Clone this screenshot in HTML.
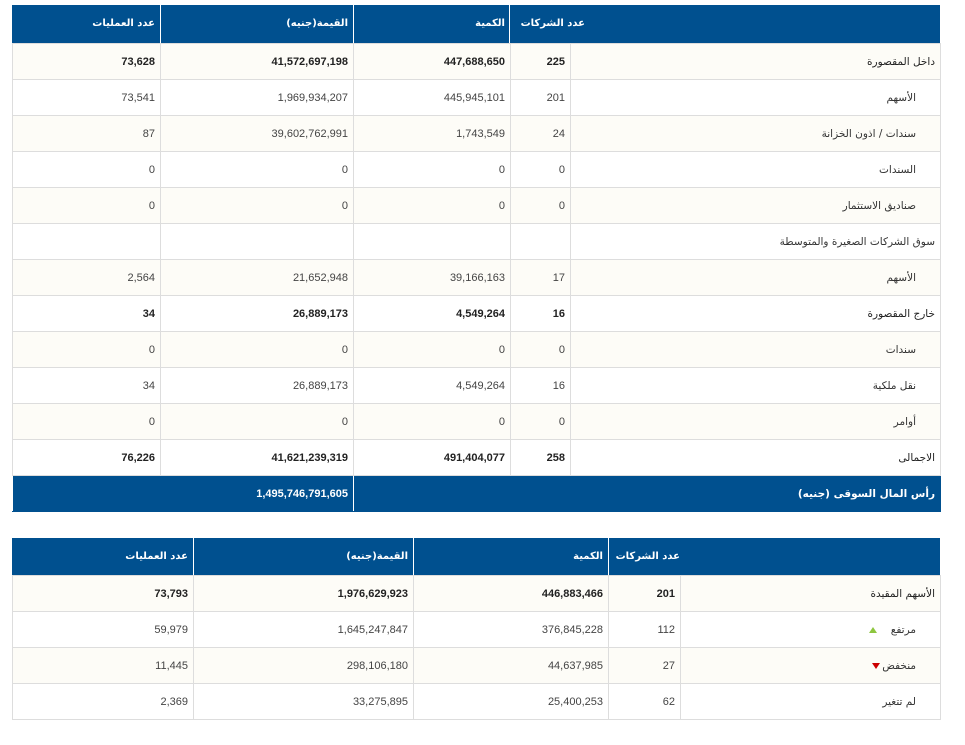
<!DOCTYPE html>
<html><head><meta charset="utf-8"><style>
body{margin:0;background:#fff;width:965px;height:745px;position:relative;overflow:hidden;font-family:"DejaVu Sans","Liberation Sans",sans-serif;}
.hdr{position:absolute;left:12px;width:928px;background:#00508f;color:#fff;font-weight:bold;font-size:10px;}
.hdr span{position:absolute;top:0;line-height:38px;white-space:nowrap;}
.hdr i{position:absolute;top:0;bottom:0;width:1px;background:#fff;}
table{position:absolute;left:12px;border-collapse:collapse;table-layout:fixed;direction:rtl;font-size:10.5px;color:#444;}
td{border:1px solid #ddd;height:35px;padding:0 5px;white-space:nowrap;text-align:right;font-family:"Liberation Sans","DejaVu Sans",sans-serif;font-size:11px;}
td.l{font-family:"DejaVu Sans",sans-serif;font-size:10.5px;padding-right:5px;font-weight:normal !important;color:#333;}
td.s{padding-right:24px;}
tr:nth-child(odd) td{background:#fdfcf7;}
tr.b td{font-weight:bold;color:#222;}
tr.blue td{background:#00508f !important;color:#fff !important;font-weight:bold;border-color:#00508f;border-left:1px solid #fff;}
.up{display:inline-block;width:0;height:0;border-left:4px solid transparent;border-right:4px solid transparent;border-bottom:6px solid #8dc63f;margin-right:10px;}
.dn{display:inline-block;width:0;height:0;border-left:4px solid transparent;border-right:4px solid transparent;border-top:6px solid #c00;margin-right:2px;}
</style></head><body>
<div class="hdr" style="top:5px;height:38px;">
<i style="left:148px"></i><i style="left:341px"></i><i style="left:497px"></i>
<span style="right:785px" dir="rtl">عدد العمليات</span>
<span style="right:592px" dir="rtl">القيمة(جنيه)</span>
<span style="right:435px" dir="rtl">الكمية</span>
<span style="right:355px" dir="rtl">عدد الشركات</span>
</div>
<table style="top:43px;width:928px;">
<colgroup><col style="width:370px"><col style="width:60px"><col style="width:157px"><col style="width:193px"><col style="width:148px"></colgroup>
<tr class="b"><td class="l">داخل المقصورة</td><td>225</td><td>447,688,650</td><td>41,572,697,198</td><td>73,628</td></tr>
<tr><td class="l s">الأسهم</td><td>201</td><td>445,945,101</td><td>1,969,934,207</td><td>73,541</td></tr>
<tr><td class="l s">سندات / اذون الخزانة</td><td>24</td><td>1,743,549</td><td>39,602,762,991</td><td>87</td></tr>
<tr><td class="l s">السندات</td><td>0</td><td>0</td><td>0</td><td>0</td></tr>
<tr><td class="l s">صناديق الاستثمار</td><td>0</td><td>0</td><td>0</td><td>0</td></tr>
<tr><td class="l">سوق الشركات الصغيرة والمتوسطة</td><td></td><td></td><td></td><td></td></tr>
<tr><td class="l s">الأسهم</td><td>17</td><td>39,166,163</td><td>21,652,948</td><td>2,564</td></tr>
<tr class="b"><td class="l">خارج المقصورة</td><td>16</td><td>4,549,264</td><td>26,889,173</td><td>34</td></tr>
<tr><td class="l s">سندات</td><td>0</td><td>0</td><td>0</td><td>0</td></tr>
<tr><td class="l s">نقل ملكية</td><td>16</td><td>4,549,264</td><td>26,889,173</td><td>34</td></tr>
<tr><td class="l s">أوامر</td><td>0</td><td>0</td><td>0</td><td>0</td></tr>
<tr class="b"><td class="l" style="background:#fff;height:34px">الاجمالى</td><td style="background:#fff">258</td><td style="background:#fff">491,404,077</td><td style="background:#fff">41,621,239,319</td><td style="background:#fff">76,226</td></tr>
<tr class="blue"><td class="l" colspan="3" style="height:35px;font-weight:bold !important">رأس المال السوقى (جنيه)</td><td colspan="2">1,495,746,791,605</td></tr>
</table>
<div class="hdr" style="top:538px;height:37px;">
<i style="left:181px"></i><i style="left:401px"></i><i style="left:596px"></i>
<span style="right:752px;line-height:37px" dir="rtl">عدد العمليات</span>
<span style="right:532px;line-height:37px" dir="rtl">القيمة(جنيه)</span>
<span style="right:337px;line-height:37px" dir="rtl">الكمية</span>
<span style="right:260px;line-height:37px" dir="rtl">عدد الشركات</span>
</div>
<table style="top:575px;width:928px;">
<colgroup><col style="width:260px"><col style="width:72px"><col style="width:195px"><col style="width:220px"><col style="width:181px"></colgroup>
<tr class="b"><td class="l">الأسهم المقيدة</td><td>201</td><td>446,883,466</td><td>1,976,629,923</td><td>73,793</td></tr>
<tr><td class="l s">مرتفع <span class="up"></span></td><td>112</td><td>376,845,228</td><td>1,645,247,847</td><td>59,979</td></tr>
<tr><td class="l s">منخفض<span class="dn"></span></td><td>27</td><td>44,637,985</td><td>298,106,180</td><td>11,445</td></tr>
<tr><td class="l s">لم تتغير</td><td>62</td><td>25,400,253</td><td>33,275,895</td><td>2,369</td></tr>
</table>
</body></html>
